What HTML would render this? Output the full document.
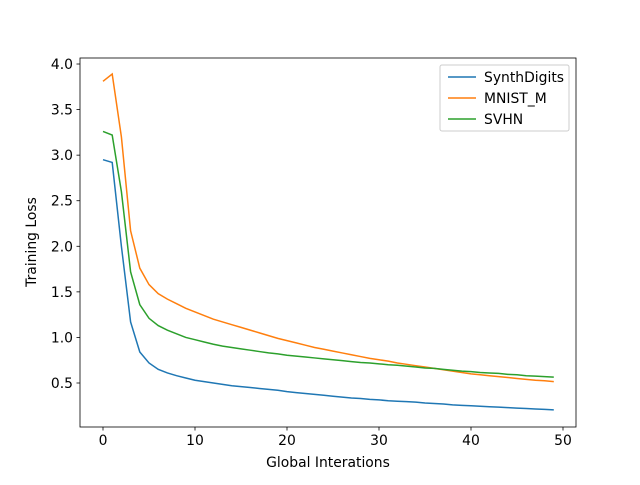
<!DOCTYPE html>
<html><head><meta charset="utf-8"><style>
body{margin:0;background:#fff}
text{font-family:"DejaVu Sans","Liberation Sans",sans-serif;font-size:13.9px;fill:#000}
</style></head><body>
<svg id="c" width="640" height="480" xmlns="http://www.w3.org/2000/svg">
<rect x="0" y="0" width="640" height="480" fill="#fff"/>
<g id="plot"></g>
<rect x="80" y="58" width="496" height="369" fill="none" stroke="#000" stroke-width="0.8"/>
<g id="xt"></g><g id="yt"></g>
<text x="328" y="467" text-anchor="middle">Global Interations</text>
<text transform="translate(36,242) rotate(-90)" text-anchor="middle">Training Loss</text>
<g>
<rect x="440" y="65" width="129" height="66" rx="2" fill="#fff" fill-opacity="0.8" stroke="#ccc"/>
<g id="leg"></g>
</g>
</svg>
<script>
const synth=[2.95,2.92,2.0,1.17,0.84,0.72,0.65,0.61,0.58,0.555,0.53,0.515,0.50,0.485,0.47,0.46,0.45,0.44,0.43,0.42,0.405,0.395,0.385,0.375,0.365,0.355,0.345,0.335,0.33,0.32,0.315,0.305,0.30,0.295,0.29,0.28,0.275,0.27,0.26,0.255,0.25,0.245,0.24,0.235,0.23,0.225,0.22,0.215,0.21,0.205];
const mnistm=[3.81,3.89,3.2,2.17,1.76,1.58,1.48,1.42,1.37,1.32,1.28,1.24,1.2,1.17,1.14,1.11,1.08,1.05,1.02,0.99,0.965,0.94,0.915,0.89,0.87,0.85,0.83,0.81,0.79,0.77,0.755,0.74,0.72,0.705,0.69,0.675,0.66,0.645,0.63,0.615,0.60,0.59,0.58,0.57,0.56,0.55,0.54,0.53,0.525,0.515];
const svhn=[3.26,3.22,2.6,1.72,1.36,1.21,1.13,1.08,1.04,1.0,0.975,0.95,0.925,0.905,0.89,0.875,0.86,0.845,0.83,0.82,0.805,0.795,0.785,0.775,0.765,0.755,0.745,0.735,0.725,0.72,0.71,0.70,0.695,0.685,0.675,0.665,0.66,0.65,0.64,0.63,0.625,0.615,0.61,0.605,0.595,0.59,0.58,0.575,0.57,0.565];
const seriesNames=["SynthDigits","MNIST_M","SVHN"];
const xTicks=[0,10,20,30,40,50];
const yTicks=[0.5,1.0,1.5,2.0,2.5,3.0,3.5,4.0];
const NS="http://www.w3.org/2000/svg";
const X=v=>103+v*9.2;
const Y=v=>383-(v-0.5)*91.14;
function mk(t,a,p){const e=document.createElementNS(NS,t);for(const k in a)e.setAttribute(k,a[k]);p.appendChild(e);return e;}
const colors=["#1f77b4","#ff7f0e","#2ca02c"];
const plot=document.getElementById('plot');
[synth,mnistm,svhn].forEach((d,i)=>{
  const p=mk('polyline',{points:d.map((v,j)=>X(j)+','+Y(v)).join(' '),fill:'none',stroke:colors[i],'stroke-width':1.5},plot);
  
  
});
const xt=document.getElementById('xt');
xTicks.forEach(v=>{
  mk('line',{x1:X(v),x2:X(v),y1:427,y2:430.5,stroke:'#000','stroke-width':0.8},xt);
  const t=mk('text',{x:X(v),y:445,'text-anchor':'middle'},xt);t.textContent=v;
  
  
});
const yt=document.getElementById('yt');
yTicks.forEach(v=>{
  mk('line',{x1:76.5,x2:80,y1:Y(v),y2:Y(v),stroke:'#000','stroke-width':0.8},yt);
  const t=mk('text',{x:73,y:Y(v)+5,'text-anchor':'end'},yt);t.textContent=v.toFixed(1);
  
  
});
const leg=document.getElementById('leg');
seriesNames.forEach((n,i)=>{
  const y=77+i*21;
  mk('line',{x1:448,x2:476,y1:y,y2:y,stroke:colors[i],'stroke-width':1.5},leg);
  const t=mk('text',{x:484,y:y+5},leg);t.textContent=n;
  
  
});
</script>
</body></html>
